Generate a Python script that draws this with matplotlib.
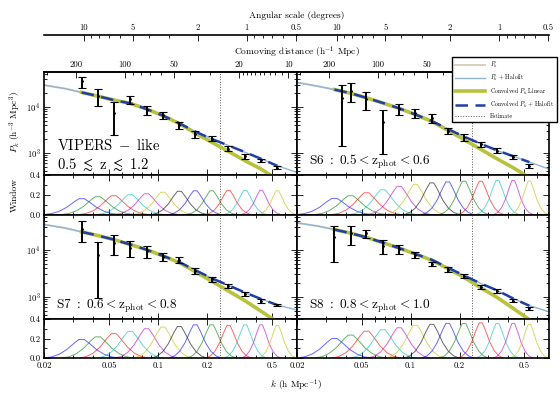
import numpy as np
import matplotlib.pyplot as plt
from matplotlib.ticker import FixedLocator, NullFormatter, FuncFormatter, LogLocator

plt.rcParams['font.family'] = 'serif'
plt.rcParams['font.serif'] = ['cmr10', 'DejaVu Serif']
plt.rcParams['mathtext.fontset'] = 'cm'
plt.rcParams['axes.unicode_minus'] = False
plt.rcParams['axes.formatter.use_mathtext'] = True

# k bins of the estimates / window functions
k_bins = [0.034, 0.0427, 0.0535, 0.0675, 0.085, 0.107, 0.135, 0.169, 0.213, 0.27, 0.342, 0.428, 0.538]
k_s6 = [0.0378, 0.0427, 0.0535, 0.0675, 0.085, 0.107, 0.135, 0.169, 0.213, 0.27, 0.342, 0.428, 0.538]
# grid of the model curves
k_model = [0.02, 0.027, 0.034, 0.043, 0.054, 0.068, 0.085, 0.107, 0.135, 0.17, 0.213, 0.27, 0.34, 0.43, 0.54, 0.71]
k_cut = 0.24

# VIPERS-like
pk_vipers = [3.5e4, 1.71e4, 7.4e3, 1.44e4, 8.5e3, 6.6e3, 4.0e3, 2.53e3, 2.05e3, 1.25e3, 845, 700, 478]
err_vipers = [9.1e3, 6.8e3, 4.9e3, 2.8e3, 1.9e3, 1.2e3, 750, 450, 220, 150, 97, 45, 36]
halofit_vipers = [2.92e4, 2.45e4, 2.03e4, 1.69e4, 1.39e4, 1.18e4, 8.9e3, 6.4e3, 4.38e3, 2.9e3, 2.01e3, 1.45e3, 1.04e3, 748, 528, 381]
lin_vipers = [2.92e4, 2.45e4, 2.03e4, 1.69e4, 1.39e4, 1.18e4, 8.9e3, 6.4e3, 4.3e3, 2.67e3, 1.71e3, 1.08e3, 678, 449, 269, 150]
conv_hf_vipers = [2.03e4, 1.69e4, 1.39e4, 1.18e4, 8.9e3, 6.4e3, 4.38e3, 2.9e3, 2.01e3, 1.45e3, 1.04e3, 748, 528]
conv_lin_vipers = [2.03e4, 1.69e4, 1.39e4, 1.18e4, 8.9e3, 6.4e3, 4.3e3, 2.67e3, 1.71e3, 1.08e3, 678, 449, 269]
win_vipers = [0.16, 0.18, 0.19, 0.2, 0.21, 0.225, 0.235, 0.24, 0.24, 0.245, 0.245, 0.245, 0.24]

# S6
pk_s6 = [1.53e4, 2.22e4, 1.47e4, 4.7e3, 8.9e3, 7.25e3, 5.74e3, 3.03e3, 2.18e3, 1.57e3, 1.13e3, 815, 527]
err_s6 = [1.39e4, 9.5e3, 6.3e3, 3.77e3, 2.3e3, 1.65e3, 1.2e3, 500, 360, 200, 140, 68, 57]
halofit_s6 = [3.33e4, 2.75e4, 2.34e4, 1.95e4, 1.55e4, 1.2e4, 9.2e3, 6.76e3, 4.9e3, 3.31e3, 2.26e3, 1.58e3, 1.13e3, 851, 634, 449]
lin_s6 = [3.33e4, 2.75e4, 2.34e4, 1.95e4, 1.55e4, 1.2e4, 9.2e3, 6.76e3, 4.8e3, 3.09e3, 1.95e3, 1.2e3, 741, 479, 295, 165]
conv_hf_s6 = [2.34e4, 1.95e4, 1.55e4, 1.2e4, 9.2e3, 6.76e3, 4.9e3, 3.31e3, 2.26e3, 1.58e3, 1.13e3, 851, 634]
conv_lin_s6 = [2.34e4, 1.95e4, 1.55e4, 1.2e4, 9.2e3, 6.76e3, 4.8e3, 3.09e3, 1.95e3, 1.2e3, 741, 479, 295]
win_s6 = [0.163, 0.19, 0.22, 0.25, 0.285, 0.303, 0.32, 0.33, 0.337, 0.337, 0.344, 0.344, 0.337]

# S7
pk_s7 = [2.75e4, 7.76e3, 1.40e4, 1.11e4, 9.3e3, 7.1e3, 6.07e3, 3.53e3, 2.33e3, 1.67e3, 1.16e3, 806, 653]
err_s7 = [1.29e4, 6.84e3, 6.2e3, 4.0e3, 2.5e3, 1.3e3, 900, 520, 230, 170, 120, 87, 33]
halofit_s7 = [3.43e4, 2.88e4, 2.39e4, 2.0e4, 1.64e4, 1.29e4, 1.0e4, 7.4e3, 5.43e3, 3.67e3, 2.47e3, 1.74e3, 1.22e3, 891, 664, 519]
lin_s7 = [3.43e4, 2.88e4, 2.39e4, 2.0e4, 1.64e4, 1.29e4, 1.0e4, 7.4e3, 5.3e3, 3.39e3, 2.14e3, 1.32e3, 813, 490, 288, 160]
conv_hf_s7 = [2.39e4, 2.0e4, 1.64e4, 1.29e4, 1.0e4, 7.4e3, 5.43e3, 3.67e3, 2.47e3, 1.74e3, 1.22e3, 891, 664]
conv_lin_s7 = [2.39e4, 2.0e4, 1.64e4, 1.29e4, 1.0e4, 7.4e3, 5.3e3, 3.39e3, 2.14e3, 1.32e3, 813, 490, 288]
win_s7 = [0.19, 0.217, 0.25, 0.273, 0.3, 0.317, 0.323, 0.34, 0.34, 0.333, 0.34, 0.34, 0.333]

# S8
pk_s8 = [1.86e4, 2.22e4, 2.23e4, 1.22e4, 1.02e4, 7.75e3, 5.0e3, 3.75e3, 2.74e3, 1.62e3, 1.32e3, 825, 565]
err_s8 = [1.3e4, 9.4e3, 4.5e3, 4.2e3, 2.2e3, 1.15e3, 600, 430, 270, 160, 140, 68, 46]
halofit_s8 = [3.72e4, 3.16e4, 2.68e4, 2.24e4, 1.83e4, 1.41e4, 1.08e4, 8.1e3, 6.1e3, 4.17e3, 2.82e3, 1.91e3, 1.35e3, 912, 641, 478]
lin_s8 = [3.72e4, 3.16e4, 2.68e4, 2.24e4, 1.83e4, 1.41e4, 1.08e4, 8.1e3, 5.95e3, 3.98e3, 2.57e3, 1.55e3, 955, 562, 324, 180]
conv_hf_s8 = [2.68e4, 2.24e4, 1.83e4, 1.41e4, 1.08e4, 8.1e3, 6.1e3, 4.17e3, 2.82e3, 1.91e3, 1.35e3, 912, 641]
conv_lin_s8 = [2.68e4, 2.24e4, 1.83e4, 1.41e4, 1.08e4, 8.1e3, 5.95e3, 3.98e3, 2.57e3, 1.55e3, 955, 562, 324]
win_s8 = [0.2, 0.235, 0.275, 0.29, 0.31, 0.335, 0.345, 0.355, 0.355, 0.36, 0.355, 0.355, 0.345]

# window function outline (half width in decades per bin, common profile)
win_halfwidth = [0.23, 0.22, 0.21, 0.2, 0.19, 0.18, 0.17, 0.16, 0.15, 0.14, 0.13, 0.12, 0.115]
win_shape_x = [-1.0, -0.8, -0.6, -0.4, -0.2, -0.07, 0.07, 0.2, 0.4, 0.6, 0.8, 1.0]
win_shape_y = [0.0, 0.06, 0.2, 0.45, 0.8, 1.0, 1.0, 0.8, 0.45, 0.2, 0.06, 0.0]
win_colors = ['b', 'g', 'r', 'c', 'm', 'y', 'k']

labels_txt = [r'$\mathrm{VIPERS\ -\ like}$' + '\n' + r'$0.5\ \lesssim\ \mathrm{z}\ \lesssim\ 1.2$',
              r'$\mathrm{S6}\ :\ 0.5<\mathrm{z_{phot}}<0.6$',
              r'$\mathrm{S7}\ :\ 0.6<\mathrm{z_{phot}}<0.8$',
              r'$\mathrm{S8}\ :\ 0.8<\mathrm{z_{phot}}<1.0$']

W, H = 560, 398


def rect(x0, x1, y0, y1):
    return [x0 / W, 1 - y1 / H, (x1 - x0) / W, (y1 - y0) / H]


cols = [(44, 297), (297, 549)]
rows_main = [(72, 175), (214.5, 319)]
rows_win = [(175, 214.5), (319, 358)]

panels = [
    (k_bins, pk_vipers, err_vipers, halofit_vipers, lin_vipers, conv_hf_vipers, conv_lin_vipers, win_vipers),
    (k_s6, pk_s6, err_s6, halofit_s6, lin_s6, conv_hf_s6, conv_lin_s6, win_s6),
    (k_bins, pk_s7, err_s7, halofit_s7, lin_s7, conv_hf_s7, conv_lin_s7, win_s7),
    (k_bins, pk_s8, err_s8, halofit_s8, lin_s8, conv_hf_s8, conv_lin_s8, win_s8),
]

fig = plt.figure(figsize=(5.6, 3.98), dpi=100)
fs = 6.3
lab_fs = 6.8
handles = None


def style_x(ax, labels):
    ax.set_xscale('log')
    ax.set_xlim(0.02, 0.71)
    ax.xaxis.set_major_locator(FixedLocator([0.02, 0.05, 0.1, 0.2, 0.5]))
    ax.xaxis.set_minor_locator(FixedLocator([0.03, 0.04, 0.06, 0.07, 0.08, 0.09, 0.3, 0.4, 0.6, 0.7]))
    ax.xaxis.set_minor_formatter(NullFormatter())
    if labels:
        ax.xaxis.set_major_formatter(FuncFormatter(lambda v, p: f'{v:g}'))
    else:
        ax.xaxis.set_major_formatter(NullFormatter())
    ax.tick_params(which='both', direction='in', top=True, right=True, labelsize=fs, width=0.6, pad=2.5)
    ax.tick_params(which='major', length=4)
    ax.tick_params(which='minor', length=2)
    for s in ax.spines.values():
        s.set_linewidth(1.2)


for i, (kd, pk, err, hf, lin, chf, clin, wh) in enumerate(panels):
    r, c = divmod(i, 2)
    ax = fig.add_axes(rect(cols[c][0], cols[c][1], rows_main[r][0], rows_main[r][1]))
    axw = fig.add_axes(rect(cols[c][0], cols[c][1], rows_win[r][0], rows_win[r][1]))

    l1, = ax.plot(k_model, lin, color='#d9d0c2', lw=1.4, zorder=1)
    l2, = ax.plot(k_model, hf, color='#8fb5d6', lw=1.0, zorder=2)
    l3, = ax.plot(k_bins, clin, color='#b9c23c', lw=2.6, zorder=3)
    l4, = ax.plot(k_bins, chf, color='#1e40a6', lw=1.8, dashes=(5, 3), zorder=4)
    l5 = ax.axvline(k_cut, color='0.35', lw=0.7, ls=':', zorder=0)
    ax.errorbar(kd, pk, yerr=err, fmt='.', color='k', ms=2, lw=1.4,
                capsize=2.6, capthick=0.8, ecolor='k', zorder=5)
    if i == 1:
        handles = [l1, l2, l3, l4, l5]

    ax.set_yscale('log')
    ax.set_ylim(335, 5.6e4)
    style_x(ax, False)
    ax.yaxis.set_major_locator(FixedLocator([1e3, 1e4]))
    ax.yaxis.set_minor_locator(LogLocator(base=10, subs=np.arange(2, 10)))
    ax.yaxis.set_minor_formatter(NullFormatter())
    if c == 1:
        ax.yaxis.set_major_formatter(NullFormatter())

    if i == 0:
        ax.text(0.05, 0.19, labels_txt[i], transform=ax.transAxes, fontsize=10.5,
                va='center', ha='left', linespacing=1.25)
    else:
        ax.text(0.048, 0.125, labels_txt[i], transform=ax.transAxes, fontsize=9.6,
                va='center', ha='left')

    if r == 0:
        ax.tick_params(which='both', top=False)
        dist = ax.secondary_xaxis('top', functions=(lambda k: 2 * np.pi / k, lambda d: 2 * np.pi / d))
        # on the right panel the small distances sit under the legend
        dist.xaxis.set_major_locator(FixedLocator([200, 100, 50, 20, 10] if c == 0 else [200, 100, 50]))
        dist.xaxis.set_minor_locator(FixedLocator([300, 90, 80, 70, 60, 40, 30, 19, 18, 17, 16, 15, 14, 13, 12, 11, 9]))
        dist.xaxis.set_major_formatter(FuncFormatter(lambda v, p: f'{v:g}'))
        dist.xaxis.set_minor_formatter(NullFormatter())
        dist.tick_params(which='both', direction='in', labelsize=fs, width=0.6, pad=2)
        dist.tick_params(which='major', length=4)
        dist.tick_params(which='minor', length=2)
        dist.spines['top'].set_linewidth(1.2)

        ang = ax.secondary_xaxis(1.359, functions=(lambda k: 0.35 / k, lambda t: 0.35 / t))
        ang.xaxis.set_major_locator(FixedLocator([10, 5, 2, 1, 0.5]))
        ang.xaxis.set_minor_locator(FixedLocator([9, 8, 7, 6, 4, 3, 0.9, 0.8, 0.7, 0.6]))
        ang.xaxis.set_major_formatter(FuncFormatter(lambda v, p: f'{v:g}'))
        ang.xaxis.set_minor_formatter(NullFormatter())
        ang.tick_params(which='both', direction='in', labelsize=fs, width=0.6, pad=2)
        ang.tick_params(which='major', length=4)
        ang.tick_params(which='minor', length=2)
        ang.spines['top'].set_linewidth(1.2)

    for j, (kc, hw, h) in enumerate(zip(k_bins, win_halfwidth, wh)):
        kk = kc * 10 ** (hw * np.array(win_shape_x))
        axw.plot(kk, h * np.array(win_shape_y), color=win_colors[j % 7], lw=0.7, alpha=0.6)
    axw.axvline(k_cut, color='0.35', lw=0.7, ls=':', zorder=0)
    axw.set_ylim(0, 0.4)
    style_x(axw, r == 1)
    axw.yaxis.set_major_locator(FixedLocator([0.0, 0.2, 0.4]))
    axw.yaxis.set_minor_locator(FixedLocator([0.1, 0.3]))
    if c == 0:
        axw.yaxis.set_major_formatter(FuncFormatter(lambda v, p: f'{v:.1f}'))
    else:
        axw.yaxis.set_major_formatter(NullFormatter())

fig.text(15 / W, 1 - 122 / H, r'$P_k$ (h$^{-3}$ Mpc$^3$)', rotation=90, ha='center', va='center', fontsize=lab_fs)
fig.text(15 / W, 1 - 195 / H, 'Window', rotation=90, ha='center', va='center', fontsize=lab_fs)
fig.text(296 / W, 1 - 385 / H, r'$k$ (h Mpc$^{-1}$)', ha='center', va='center', fontsize=lab_fs)
fig.text(297 / W, 1 - 52 / H, r'Comoving distance (h$^{-1}$ Mpc)', ha='center', va='center', fontsize=lab_fs)
fig.text(297 / W, 1 - 16 / H, 'Angular scale (degrees)', ha='center', va='center', fontsize=lab_fs)

leg = fig.legend(handles, [r'$P_k$', r'$P_k$ + Halofit', r'Convolved $P_k$ Linear',
                           r'Convolved $P_k$ + Halofit', 'Estimate'],
                 loc='upper right', bbox_to_anchor=(557 / W, 1 - 57 / H), fontsize=4.3,
                 frameon=True, fancybox=False, edgecolor='k', framealpha=1,
                 borderaxespad=0, handlelength=5, labelspacing=0.55, borderpad=0.5)
leg.get_frame().set_linewidth(1.0)

fig.savefig('out.png', dpi=100)
